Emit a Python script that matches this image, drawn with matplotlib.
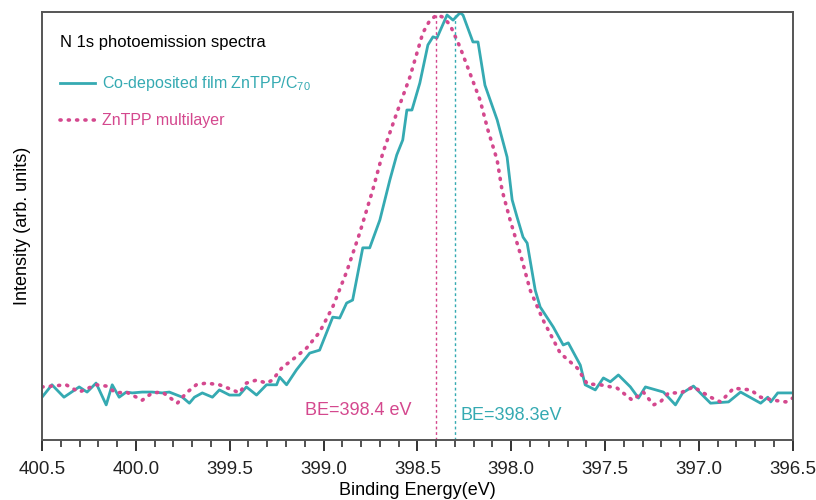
import numpy as np
import matplotlib
matplotlib.use("Agg")
import matplotlib.pyplot as plt
from matplotlib.ticker import MultipleLocator

plt.rcParams['font.family'] = ['Liberation Sans', 'DejaVu Sans']
plt.rcParams['mathtext.default'] = 'regular'

# N 1s spectra (binding energy in eV, normalised intensity)
be_codep = [400.500, 400.447, 400.383, 400.302, 400.260, 400.212, 400.158, 400.126, 400.089, 400.051,
            400.019, 399.966, 399.913, 399.859, 399.822, 399.752, 399.715, 399.688, 399.646, 399.592,
            399.555, 399.501, 399.448, 399.411, 399.357, 399.304, 399.250, 399.234, 399.197, 399.144,
            399.074, 399.021, 398.951, 398.914, 398.877, 398.845, 398.791, 398.754, 398.700, 398.647,
            398.610, 398.578, 398.556, 398.529, 398.487, 398.444, 398.417, 398.396, 398.342, 398.310,
            398.273, 398.257, 398.204, 398.177, 398.140, 398.075, 398.022, 397.995, 397.969, 397.937,
            397.915, 397.872, 397.846, 397.776, 397.723, 397.696, 397.632, 397.606, 397.552, 397.509,
            397.472, 397.429, 397.365, 397.322, 397.285, 397.189, 397.125, 397.087, 397.029, 396.938,
            396.842, 396.778, 396.671, 396.633, 396.617, 396.580, 396.500]
int_codep = [0.100, 0.129, 0.100, 0.124, 0.112, 0.133, 0.082, 0.129, 0.100, 0.112,
             0.110, 0.112, 0.112, 0.110, 0.112, 0.100, 0.086, 0.100, 0.110, 0.100,
             0.117, 0.105, 0.105, 0.124, 0.105, 0.129, 0.129, 0.147, 0.129, 0.164,
             0.203, 0.210, 0.287, 0.285, 0.320, 0.327, 0.449, 0.449, 0.514, 0.607,
             0.666, 0.701, 0.771, 0.771, 0.834, 0.923, 0.942, 0.939, 0.993, 0.981,
             0.998, 0.993, 0.930, 0.930, 0.829, 0.748, 0.661, 0.561, 0.521, 0.474,
             0.460, 0.350, 0.311, 0.264, 0.222, 0.227, 0.175, 0.129, 0.117, 0.145,
             0.136, 0.152, 0.124, 0.098, 0.124, 0.112, 0.082, 0.110, 0.126, 0.086,
             0.089, 0.112, 0.086, 0.100, 0.089, 0.110, 0.110]

be_multi = [400.500, 400.447, 400.372, 400.302, 400.212, 400.158, 400.105, 400.051, 399.966, 399.913,
            399.859, 399.779, 399.731, 399.678, 399.624, 399.555, 399.485, 399.448, 399.411, 399.357,
            399.304, 399.272, 399.218, 399.181, 399.090, 399.021, 398.951, 398.877, 398.807, 398.738,
            398.684, 398.610, 398.540, 398.471, 398.433, 398.396, 398.364, 398.326, 398.273, 398.220,
            398.166, 398.124, 398.075, 398.049, 398.006, 397.953, 397.899, 397.830, 397.739, 397.648,
            397.595, 397.525, 397.435, 397.355, 397.296, 397.242, 397.205, 397.162, 397.098, 397.029,
            396.938, 396.885, 396.815, 396.724, 396.671, 396.602, 396.537, 396.500]
int_multi = [0.124, 0.126, 0.129, 0.112, 0.129, 0.126, 0.110, 0.112, 0.093, 0.110,
             0.112, 0.086, 0.110, 0.129, 0.133, 0.129, 0.117, 0.110, 0.133, 0.140,
             0.133, 0.140, 0.171, 0.182, 0.215, 0.252, 0.311, 0.393, 0.484, 0.584,
             0.671, 0.764, 0.848, 0.951, 0.981, 0.993, 0.988, 0.970, 0.918, 0.857,
             0.794, 0.724, 0.654, 0.584, 0.514, 0.437, 0.350, 0.280, 0.203, 0.168,
             0.131, 0.129, 0.121, 0.093, 0.112, 0.082, 0.089, 0.110, 0.110, 0.124,
             0.100, 0.089, 0.121, 0.117, 0.100, 0.093, 0.089, 0.098]

peak_multi = 398.4
peak_codep = 398.3

cyan = '#35aab2'
pink = '#d4488e'

fig = plt.figure(figsize=(8.16, 5.0), dpi=100)
ax = fig.add_axes([0.0515, 0.12, 0.920, 0.856])

ax.plot(be_codep, int_codep, color=cyan, lw=2.0, label='Co-deposited film ZnTPP/C$_{70}$')
ax.plot(be_multi, int_multi, color=pink, lw=2.6, ls=(0, (0.3, 2.0)), dash_capstyle='round',
        label='ZnTPP multilayer')

ax.axvline(peak_multi, color=pink, lw=1.0, ls=(0, (2, 2)))
ax.axvline(peak_codep, color=cyan, lw=1.0, ls=(0, (2, 2)))

ax.text(398.53, 0.07, 'BE=398.4 eV', color=pink, fontsize=13, ha='right', va='center')
ax.text(398.27, 0.058, 'BE=398.3eV', color=cyan, fontsize=13, ha='left', va='center')

ax.set_xlim(400.5, 396.5)
ax.set_ylim(0, 1.0)
ax.xaxis.set_major_locator(MultipleLocator(0.5))
ax.xaxis.set_minor_locator(MultipleLocator(0.1))
ax.xaxis.set_major_formatter(plt.FormatStrFormatter('%.1f'))
ax.set_yticks([])
ax.tick_params(axis='x', which='major', direction='out', length=8, width=1.3,
               labelsize=13.5, colors='#222222', pad=7)
ax.tick_params(axis='x', which='minor', direction='out', length=5, width=1.1, colors='#222222')
for s in ax.spines.values():
    s.set_color('#555555')
    s.set_linewidth(1.4)

ax.set_xlabel('Binding Energy(eV)', fontsize=13, labelpad=3)
ax.set_ylabel('Intensity (arb. units)', fontsize=13, labelpad=8)

leg = ax.legend(loc='upper left', bbox_to_anchor=(0.0154, 0.951), borderaxespad=0,
                frameon=False, title='N 1s photoemission spectra',
                fontsize=11.5, title_fontsize=12, alignment='left', handlelength=2.2,
                handletextpad=0.4, labelspacing=1.25, labelcolor=[cyan, pink])
leg.get_title().set_position((0, 4))

fig.savefig('out.png', dpi=100)
